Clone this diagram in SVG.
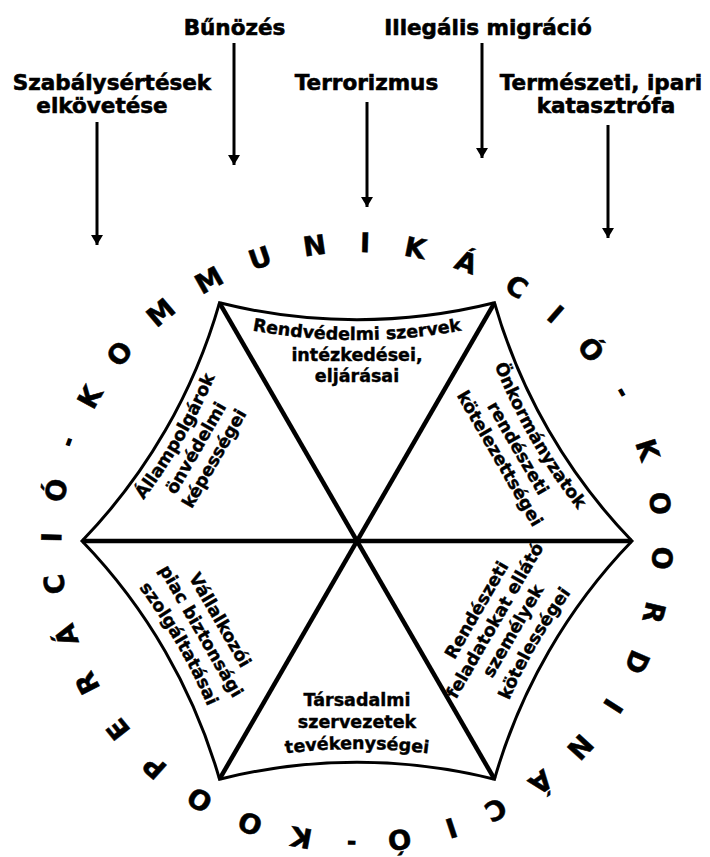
<svg xmlns="http://www.w3.org/2000/svg" width="710" height="857" viewBox="0 0 710 857">
<style>
.lbl{font-family:"DejaVu Sans","Liberation Sans",sans-serif;font-weight:bold;font-size:21.5px;fill:#000;stroke:#000;stroke-width:0.6;text-anchor:middle}
.seg{font-family:"DejaVu Sans","Liberation Sans",sans-serif;font-weight:bold;font-size:17.5px;fill:#000;stroke:#000;stroke-width:0.4;text-anchor:middle}
.ring{font-family:"DejaVu Sans","Liberation Sans",sans-serif;font-weight:bold;font-size:27px;fill:#000;stroke:#000;stroke-width:0.5;text-anchor:middle}
.ring .dash{font-size:20px;stroke-width:1.3}
.arrow{stroke:#000;stroke-width:3;fill:none}
.spoke{stroke:#000;stroke-width:4.5;fill:none}
.edge{stroke:#000;stroke-width:3;fill:none;stroke-linejoin:miter}
</style>
<defs>
<marker id="ah" viewBox="0 0 10 12" refX="10" refY="6" markerWidth="10" markerHeight="12" orient="auto" markerUnits="userSpaceOnUse"><path d="M0,0 L10,6 L0,12 z" fill="#000"/></marker>
<path id="arcU" d="M -150 -220.5 A 588 588 0 0 0 150 -220.5"/>
<path id="arcD" d="M -150 227.7 A 581 581 0 0 1 150 227.7"/>
</defs>
<rect width="710" height="857" fill="#fff"/>

<g id="label-szabalysertesek"><text class="lbl" x="112" y="90">Szabálysértések</text><text class="lbl" x="102" y="113">elkövetése</text></g>
<g id="label-bunozes"><text class="lbl" x="234.5" y="35">Bűnözés</text></g>
<g id="label-terrorizmus"><text class="lbl" x="366.5" y="90">Terrorizmus</text></g>
<g id="label-migracio"><text class="lbl" x="488" y="35">Illegális migráció</text></g>
<g id="label-katasztrofa"><text class="lbl" x="601" y="90">Természeti, ipari</text><text class="lbl" x="606" y="113">katasztrófa</text></g>

<g id="connectors">
<line class="arrow" x1="97" y1="122" x2="97" y2="245" marker-end="url(#ah)"/>
<line class="arrow" x1="234" y1="43" x2="234" y2="165" marker-end="url(#ah)"/>
<line class="arrow" x1="367" y1="102" x2="367" y2="207" marker-end="url(#ah)"/>
<line class="arrow" x1="482" y1="43" x2="482" y2="158" marker-end="url(#ah)"/>
<line class="arrow" x1="608" y1="125" x2="608" y2="238" marker-end="url(#ah)"/>
</g>

<g id="hexagon">
<path class="edge" d="M219.5,302.8 A568,568 0 0 0 494.5,302.8 A568,568 0 0 0 632,541 A568,568 0 0 0 494.5,779.2 A568,568 0 0 0 219.5,779.2 A568,568 0 0 0 82,541 A568,568 0 0 0 219.5,302.8 Z"/>
<line class="spoke" x1="82" y1="541" x2="632" y2="541"/>
<line class="spoke" x1="219.5" y1="302.8" x2="494.5" y2="779.2"/>
<line class="spoke" x1="494.5" y1="302.8" x2="219.5" y2="779.2"/>
</g>

<g id="seg-rendvedelmi" transform="translate(357 541)">
<text class="seg"><textPath href="#arcU" startOffset="50%">Rendvédelmi szervek</textPath></text>
<text class="seg" x="0" y="-180">intézkedései,</text>
<text class="seg" x="0" y="-159">eljárásai</text>
</g>
<g id="seg-allampolgarok" transform="translate(357 541) rotate(-60)">
<text class="seg"><textPath href="#arcU" startOffset="50%">Állampolgárok</textPath></text>
<text class="seg" x="0" y="-180">önvédelmi</text>
<text class="seg" x="0" y="-159">képességei</text>
</g>
<g id="seg-onkormanyzatok" transform="translate(357 541) rotate(60)">
<text class="seg"><textPath href="#arcU" startOffset="50%">Önkormányzatok</textPath></text>
<text class="seg" x="0" y="-180">rendészeti</text>
<text class="seg" x="0" y="-159">kötelezettségei</text>
</g>
<g id="seg-tarsadalmi" transform="translate(357 541)">
<text class="seg" x="0" y="165">Társadalmi</text>
<text class="seg" x="0" y="187">szervezetek</text>
<text class="seg"><textPath href="#arcD" startOffset="50%">tevékenységei</textPath></text>
</g>
<g id="seg-vallalkozoi" transform="translate(357 541) rotate(60)">
<text class="seg" x="0" y="164">Vállalkozói</text>
<text class="seg" x="0" y="186">piac biztonsági</text>
<text class="seg"><textPath href="#arcD" startOffset="50%">szolgáltatásai</textPath></text>
</g>
<g id="seg-rendeszeti" transform="translate(357 541) rotate(-60)">
<text class="seg" x="0" y="144">Rendészeti</text>
<text class="seg" x="0" y="165">feladatokat ellátó</text>
<text class="seg" x="0" y="186">személyek</text>
<text class="seg"><textPath href="#arcD" startOffset="50%">kötelességei</textPath></text>
</g>

<g id="ring-text" class="ring" transform="translate(357 542.5) scale(1.018 1)">
<text transform="rotate(299)" x="0" y="-290.5">K</text>
<text transform="rotate(309)" x="0" y="-290.5">O</text>
<text transform="rotate(320)" x="0" y="-290.5">M</text>
<text transform="rotate(331)" x="0" y="-290.5">M</text>
<text transform="rotate(341.5)" x="0" y="-290.5">U</text>
<text transform="rotate(352)" x="0" y="-290.5">N</text>
<text transform="rotate(1.5)" x="0" y="-290.5">I</text>
<text transform="rotate(11)" x="0" y="-290.5">K</text>
<text transform="rotate(21)" x="0" y="-290.5">Á</text>
<text transform="rotate(31.5)" x="0" y="-290.5">C</text>
<text transform="rotate(40.5)" x="0" y="-290.5">I</text>
<text transform="rotate(50)" x="0" y="-290.5">Ó</text>
<text class="dash" transform="rotate(60)" x="0" y="-294.5">-</text>
<text transform="rotate(72)" x="0" y="-290.5">K</text>
<text transform="rotate(82.5)" x="0" y="-290.5">O</text>
<text transform="rotate(93)" x="0" y="-290.5">O</text>
<text transform="rotate(103.5)" x="0" y="-290.5">R</text>
<text transform="rotate(113.5)" x="0" y="-290.5">D</text>
<text transform="rotate(123)" x="0" y="-290.5">I</text>
<text transform="rotate(133)" x="0" y="-290.5">N</text>
<text transform="rotate(143)" x="0" y="-290.5">Á</text>
<text transform="rotate(153)" x="0" y="-290.5">C</text>
<text transform="rotate(162)" x="0" y="-290.5">I</text>
<text transform="rotate(172)" x="0" y="-290.5">Ó</text>
<text class="dash" transform="rotate(181)" x="0" y="-294.5">-</text>
<text transform="rotate(190.5)" x="0" y="-290.5">K</text>
<text transform="rotate(200.5)" x="0" y="-290.5">O</text>
<text transform="rotate(211)" x="0" y="-290.5">O</text>
<text transform="rotate(221.5)" x="0" y="-290.5">P</text>
<text transform="rotate(231.5)" x="0" y="-290.5">E</text>
<text transform="rotate(242)" x="0" y="-290.5">R</text>
<text transform="rotate(252)" x="0" y="-290.5">Á</text>
<text transform="rotate(262)" x="0" y="-290.5">C</text>
<text transform="rotate(271)" x="0" y="-290.5">I</text>
<text transform="rotate(280)" x="0" y="-290.5">Ó</text>
<text class="dash" transform="rotate(289.5)" x="0" y="-294.5">-</text>
</g>
</svg>
